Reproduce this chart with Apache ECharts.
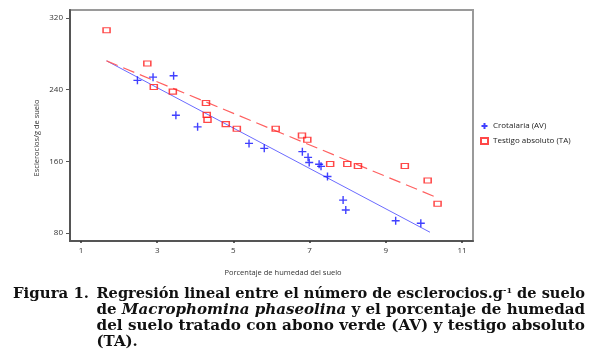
<!DOCTYPE html>
<html>
<head>
<meta charset="utf-8">
<script src="https://cdn.jsdelivr.net/npm/echarts@6/dist/echarts.min.js"></script>
<style>
html,body{margin:0;padding:0;background:#fff;}
#chart{width:600px;height:359px;}
</style>
</head>
<body>
<div id="chart"></div>
<script>
// ---- data ----
const xTicks = [1, 3, 5, 7, 9, 11];
const yTicks = [80, 160, 240, 320];

const avName = 'Crotalaria (AV)';
const avX = [2.48, 2.89, 3.43, 3.49, 4.06, 5.41, 5.81, 6.81, 6.96, 6.99, 7.25, 7.30, 7.47, 7.88, 7.95, 9.26, 9.92];
const avY = [250.4, 254, 255.6, 211.4, 198.5, 180, 174.5, 170.8, 164.4, 158.6, 156.7, 154.4, 143, 116.7, 105.6, 93.7, 90.8];

const taName = 'Testigo absoluto (TA)';
const taX = [1.67, 2.74, 2.91, 3.41, 4.28, 4.30, 4.32, 4.80, 5.09, 6.11, 6.80, 6.94, 7.54, 7.99, 8.27, 9.50, 10.10, 10.36];
const taY = [306.3, 269.3, 243, 237.8, 225.2, 211.9, 206.3, 201.5, 196.3, 196.3, 188.9, 184.1, 157, 157, 154.8, 154.8, 138.5, 112.6];

// regression line end points (x, y)
const avFitX = [1.67, 10.16];
const avFitY = [272.2, 80.8];
const taFitX = [1.67, 10.38];
const taFitY = [272.2, 118.9];

const xAxisTitle = 'Porcentaje de humedad del suelo';
const yAxisTitle = 'Esclerocios/g de suelo';

const captionLabel = 'Figura 1.';
const captionLine1 = ['Regresión lineal entre el número de esclerocios.g', '-1', ' de suelo'];
const captionLine2 = ['de ', 'Macrophomina phaseolina', ' y el porcentaje de humedad'];
const captionLine3 = 'del suelo tratado con abono verde (AV) y testigo absoluto';
const captionLine4 = '(TA).';

// ---- build ----
const zip = (xs, ys) => xs.map((x, i) => [x, ys[i]]);

const FS = 14.5;
const fam = '"DejaVu Serif", serif';
const fBold = 'bold ' + FS + 'px ' + fam;
const fItal = 'italic bold ' + FS + 'px ' + fam;
const fSup = 'bold 8px ' + fam;
const ctx = document.createElement('canvas').getContext('2d');
function w(font, t) { ctx.font = font; return ctx.measureText(t).width; }

const capLeft = 96.5, capRight = 585;
const target = capRight - capLeft;
const w1 = w(fBold, captionLine1[0]) + w(fSup, captionLine1[1]) + w(fBold, captionLine1[2]);
const w2 = w(fBold, captionLine2[0]) + w(fItal, captionLine2[1]) + w(fBold, captionLine2[2]);
const w3 = w(fBold, captionLine3);
const s1 = target / w1, s2 = target / w2, s3 = target / w3;
const sAvg = (s1 + s2 + s3) / 3;

const richStyles = {
  b: { font: fBold, fill: '#111', fontSize: FS, fontWeight: 'bold', fontFamily: fam },
  i: { font: fItal, fill: '#111', fontSize: FS, fontWeight: 'bold', fontStyle: 'italic', fontFamily: fam },
  s: { font: fSup, fill: '#111', fontSize: 8, fontWeight: 'bold', fontFamily: fam, verticalAlign: 'top', padding: [0, 0, 6, 0] }
};
function capText(text, x, y, sx) {
  return {
    type: 'text', x: x, y: y, scaleX: sx, scaleY: 1,
    style: { text: text, rich: richStyles, font: fBold, fill: '#111', align: 'left', verticalAlign: 'middle' }
  };
}

const labelFont = '"Open Sans", "Liberation Sans", sans-serif';
const plusPath = 'path://M0,5 L10,5 M5,0 L5,10';

const chart = echarts.init(document.getElementById('chart'), null, { renderer: 'canvas' });
chart.setOption({
  animation: false,
  backgroundColor: '#fff',
  grid: { left: 70, top: 10, right: 127, bottom: 118, show: true, borderColor: '#9a9a9a', borderWidth: 2 },
  xAxis: {
    type: 'value', min: 0.71, max: 11.29,
    splitLine: { show: false },
    axisLine: { show: true, onZero: false, lineStyle: { color: '#555', width: 2 } },
    axisTick: { show: true, length: 2, customValues: xTicks, lineStyle: { color: '#333', width: 1.5 } },
    axisLabel: { customValues: xTicks, color: '#333', fontSize: 8, fontFamily: labelFont, margin: 6 }
  },
  yAxis: {
    type: 'value', min: 71, max: 329,
    splitLine: { show: false },
    axisLine: { show: true, onZero: false, lineStyle: { color: '#555', width: 2 } },
    axisTick: { show: true, length: 4, customValues: yTicks, lineStyle: { color: '#555', width: 1 } },
    axisLabel: { customValues: yTicks, color: '#333', fontSize: 8, fontFamily: labelFont, margin: 7 }
  },
  legend: {
    orient: 'vertical', left: 475, top: 117,
    itemWidth: 7, itemHeight: 6, itemGap: 7,
    textStyle: { fontSize: 8, color: '#222', fontFamily: labelFont },
    data: [
      { name: avName, icon: plusPath },
      { name: taName, icon: 'rect' }
    ]
  },
  series: [
    {
      name: 'avFit', type: 'line', data: zip(avFitX, avFitY), symbol: 'none', silent: true,
      lineStyle: { color: '#6b6bff', width: 1 }, z: 1
    },
    {
      name: 'taFit', type: 'line', data: zip(taFitX, taFitY), symbol: 'none', silent: true,
      lineStyle: { color: '#ff6060', width: 1.2, type: [12, 6] }, z: 1
    },
    {
      name: avName, type: 'scatter', data: zip(avX, avY),
      symbol: plusPath, symbolSize: 8,
      itemStyle: { color: 'rgba(0,0,0,0)', borderColor: '#1010ff', borderWidth: 1.4 }, z: 3
    },
    {
      name: taName, type: 'scatter', data: zip(taX, taY),
      symbol: 'rect', symbolSize: [7, 5],
      itemStyle: { color: 'rgba(255,255,255,0)', borderColor: '#ff1a1a', borderWidth: 1.3 }, z: 3
    }
  ],
  graphic: [
    {
      type: 'text', x: 283, y: 273,
      style: { text: xAxisTitle, font: '7.5px ' + labelFont, fill: '#333', align: 'center', verticalAlign: 'middle' }
    },
    {
      type: 'text', x: 37, y: 138, rotation: Math.PI / 2,
      style: { text: yAxisTitle, font: '7.5px ' + labelFont, fill: '#333', align: 'center', verticalAlign: 'middle' }
    },
    capText('{b|' + captionLabel + '}', 13, 294, sAvg),
    capText('{b|' + captionLine1[0] + '}{s|' + captionLine1[1] + '}{b|' + captionLine1[2] + '}', capLeft, 294, s1),
    capText('{b|' + captionLine2[0] + '}{i|' + captionLine2[1] + '}{b|' + captionLine2[2] + '}', capLeft, 310.5, s2),
    capText('{b|' + captionLine3 + '}', capLeft, 326, s3),
    capText('{b|' + captionLine4 + '}', capLeft, 342, sAvg)
  ]
});
</script>
</body>
</html>
